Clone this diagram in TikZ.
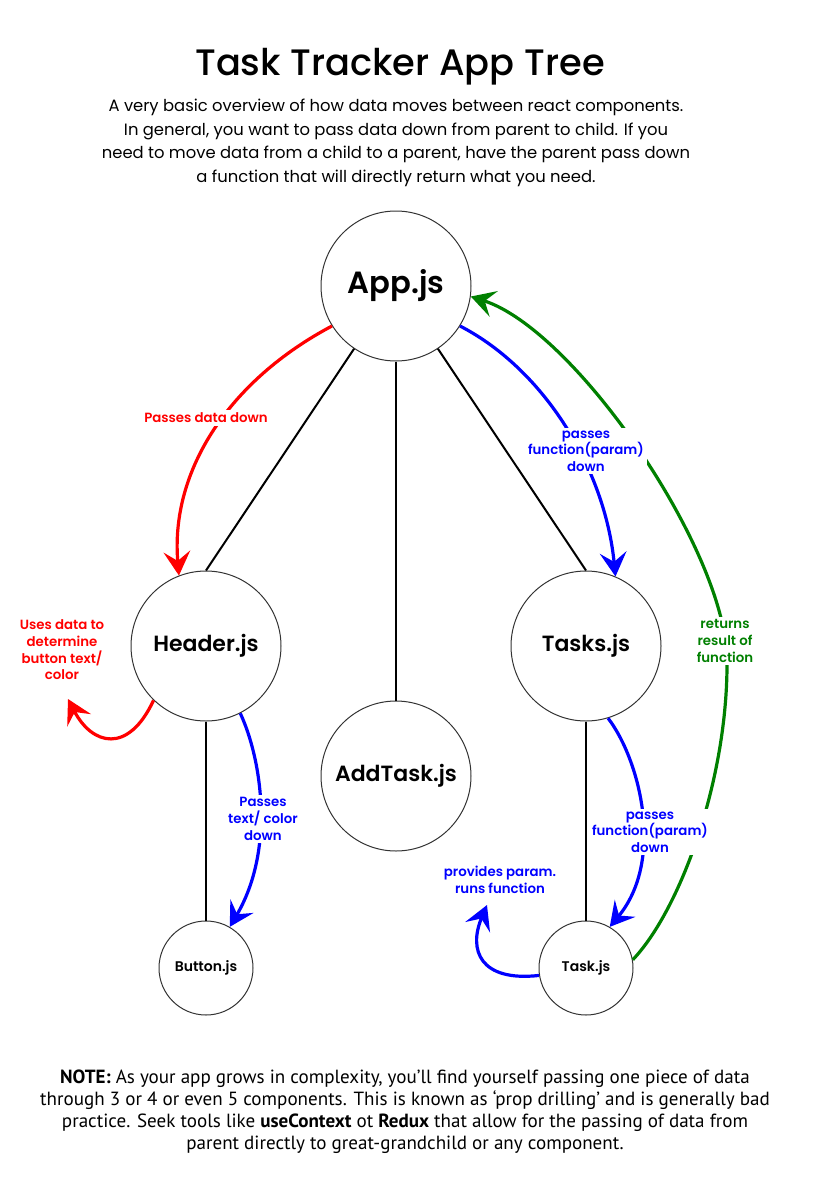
\documentclass[tikz,border=0pt]{standalone}
\usepackage{fontspec}
\setmainfont{Poppins}
\newfontfamily\titlefont{Poppins Medium}
\newfontfamily\semifont{Poppins SemiBold}
\newfontfamily\notefont{PT Sans}
\usetikzlibrary{positioning,arrows.meta}
\definecolor{passred}{RGB}{255,0,0}
\definecolor{passblue}{RGB}{0,0,255}
\definecolor{returngreen}{RGB}{0,128,0}

\begin{document}
\begin{tikzpicture}[x=0.75pt,y=-0.75pt,
	comp/.style={circle,draw=black!80,line width=0.75pt,fill=white,inner sep=0pt},
	bigcomp/.style={comp,minimum size=112.5pt,font=\semifont\fontsize{16.5}{20}\selectfont},
	smallcomp/.style={comp,minimum size=70.5pt,font=\semifont\fontsize{10.5}{12}\selectfont},
	treeline/.style={line width=1.5pt},
	flow/.style={line width=2.4pt,-{Stealth[length=18pt,width=20pt,inset=7pt]}},
	flowlabel/.style={fill=white,align=center,inner sep=2pt,font=\semifont\fontsize{10}{12.5}\selectfont}]
	\useasboundingbox (0,0) rectangle (824,1185);
	
	\node[font=\titlefont\fontsize{27.6}{34}\selectfont] (title) at (400,67) {Task Tracker App Tree};
	\node[align=center,font=\fontsize{12.3}{17.6}\selectfont] (intro) at (396,143) {A very basic overview of how data moves between react components.\\In general, you want to pass data down from parent to child. If you\\need to move data from a child to a parent, have the parent pass down\\a function that will directly return what you need.};
	
	\node[bigcomp,font=\semifont\fontsize{23}{26}\selectfont] (app) at (396,286) {App.js};
	\node[bigcomp] (header) at (206,646) {Header.js};
	\node[bigcomp] (tasks) at (586,646) {Tasks.js};
	\node[bigcomp] (addtask) at (396,776) {AddTask.js};
	\node[smallcomp] (button) at (206,968) {Button.js};
	\node[smallcomp] (task) at (586,968) {Task.js};
	
	\draw [treeline] (app) -- (header.north);
	\draw [treeline] (app) -- (addtask);
	\draw [treeline] (app) -- (tasks.north);
	\draw [treeline] (header) -- (button);
	\draw [treeline] (tasks) -- (task);
	
	% data going down
	\draw [flow,passred] (app.212) .. controls (230,380) and (170,470) .. (header.111);
	\draw [flow,passblue] (app.328) .. controls (545,370) and (605,470) .. (tasks.67);
	\draw [flow,passblue] (header.297) .. controls (262,760) and (275,850) .. (button.60);
	\draw [flow,passblue] (tasks.287) .. controls (640,760) and (665,860) .. (task.60);
	\draw [flow,passred] (header.226) .. controls (128,755) and (92,745) .. (68,699);
	\draw [flow,passblue] (task.189) .. controls (480,982) and (468,950) .. (487,905);
	
	% result going up
	\draw [flow,returngreen] (task.10) .. controls (680,910) and (728,780) .. (727,660) .. controls (726,550) and (575,330) .. (app.352);
	
	\node[flowlabel,text=passred] (datadown) at (206,418) {Passes data down};
	\node[flowlabel,text=passblue] (funcdown) at (586,451) {passes\\function(param)\\down};
	\node[flowlabel,text=returngreen] (result) at (725,641) {returns\\result of\\function};
	\node[flowlabel,text=passred,fill=none] (usesdata) at (62,650) {Uses data to\\determine\\button text/\\color};
	\node[flowlabel,text=passblue] (textdown) at (263,819) {Passes\\text/ color\\down};
	\node[flowlabel,text=passblue] (funcdown2) at (650,832) {passes\\function(param)\\down};
	\node[flowlabel,text=passblue,fill=none] (provides) at (500,880) {provides param.\\runs function};
	
	\node[align=center,font=\notefont\fontsize{14.3}{16.5}\selectfont] (note) at (405,1112) {\textbf{NOTE:} As your app grows in complexity, you’ll find yourself passing one piece of data\\through 3 or 4 or even 5 components. This is known as ‘prop drilling’ and is generally bad\\practice. Seek tools like \textbf{useContext} ot \textbf{Redux} that allow for the passing of data from\\parent directly to great-grandchild or any component.};
\end{tikzpicture}
\end{document}
